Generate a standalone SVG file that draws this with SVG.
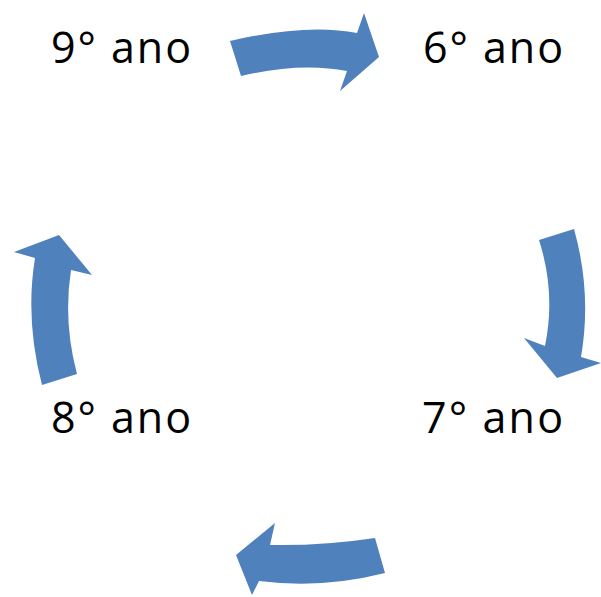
<svg xmlns="http://www.w3.org/2000/svg" width="601" height="597" viewBox="0 0 601 597">
<style>
.lbl{font-family:"Open Sans","Liberation Sans",sans-serif;font-size:43px;fill:#000}
.arr{fill:#4F81BD;stroke:none}
</style>
<rect width="601" height="597" fill="#fff"/>
<g id="connectors">
<path class="arr" d="M230,41 Q307,23 357,33 L364,13 L379,57 L340,91 L347,71 Q300,62 241,76 Z"/>
<path class="arr" d="M539,240 Q556,293 545,346 L524,338 L557,378 L601,363 L581,357 Q592,293 574,229 Z"/>
<path class="arr" d="M375,538 Q322,546 270,545 L275,523 L236,555 L252,595 L259,581 Q322,589 385,573 Z"/>
<path class="arr" d="M42,385 Q25,320 35,258 L14,252 L59,235 L92,275 L71,270 Q63,322 77,374 Z"/>
</g>
<g id="n9"><text class="lbl" x="51" y="63" textLength="140" lengthAdjust="spacing">9° ano</text></g>
<g id="n6"><text class="lbl" x="423" y="63" textLength="140" lengthAdjust="spacing">6° ano</text></g>
<g id="n7"><text class="lbl" x="422" y="433" textLength="141" lengthAdjust="spacing">7° ano</text></g>
<g id="n8"><text class="lbl" x="51" y="433" textLength="140" lengthAdjust="spacing">8° ano</text></g>
</svg>
